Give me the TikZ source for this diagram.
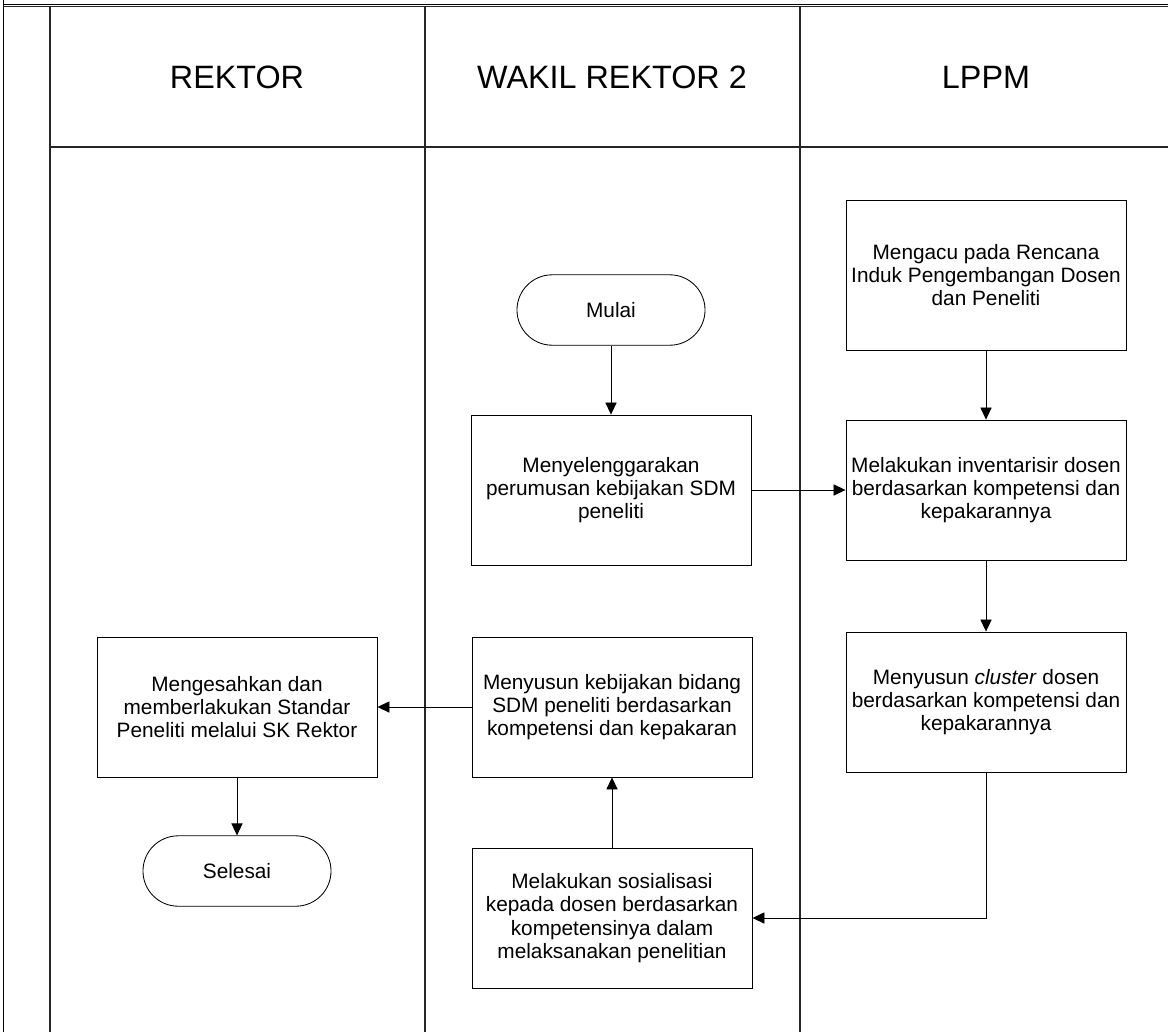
\documentclass[tikz,border=0pt]{standalone}
\usepackage{fontspec}
\setmainfont{Liberation Sans}
\usetikzlibrary{arrows.meta,positioning}

\begin{document}
\begin{tikzpicture}[x=0.025cm, y=-0.025cm,
  lane/.style={line width=1.1pt, black!85},
  frame/.style={line width=0.7pt},
  head/.style={font=\fontsize{23}{27}\selectfont},
  box/.style={draw, line width=0.6pt, align=center, minimum width=7cm, minimum height=3.5cm, font=\fontsize{14.8}{16.6}\selectfont},
  tall/.style={box, minimum height=3.75cm},
  term/.style={draw, line width=0.6pt, rounded corners=0.88cm, minimum width=4.7cm, minimum height=1.76cm, font=\fontsize{14.8}{16.6}\selectfont},
  arr/.style={-{Triangle[length=0.3cm, width=0.28cm]}, line width=0.6pt},
]
\useasboundingbox (0,0) rectangle (1168,1032);

% swimlane frame
\draw[frame] (3,0) -- (3,1032);
\draw[frame] (3,4.5) -- (1168,4.5);
\draw[lane] (3,6.5) -- (1168,6.5);
\draw[lane] (50,147) -- (1168,147);
\foreach \xl in {50,425,800}
  \draw[lane] (\xl,6.5) -- (\xl,1032);

% lane titles
\node[head] (hrektor) at (237,77) {REKTOR};
\node[head] (hwakil) at (612,77) {WAKIL REKTOR 2};
\node[head] (hlppm) at (986,77) {LPPM};

% steps
\node[term] (mulai) at (611,310) {Mulai};
\node[tall] (rumus) at (611,490) {Menyelenggarakan\\perumusan kebijakan SDM\\peneliti};
\node[tall] (acuan) at (986,275) {Mengacu pada Rencana\\Induk Pengembangan Dosen\\dan Peneliti};
\node[box] (inventaris) at (986,490) {Melakukan inventarisir dosen\\berdasarkan kompetensi dan\\kepakarannya};
\node[box] (cluster) at (986,702) {Menyusun \textit{cluster} dosen\\berdasarkan kompetensi dan\\kepakarannya};
\node[box] (sosial) at (612,918) {Melakukan sosialisasi\\kepada dosen berdasarkan\\kompetensinya dalam\\melaksanakan penelitian};
\node[box] (kebijakan) at (612,707) {Menyusun kebijakan bidang\\SDM peneliti berdasarkan\\kompetensi dan kepakaran};
\node[box] (sahkan) at (237,707) {Mengesahkan dan\\memberlakukan Standar\\Peneliti melalui SK Rektor};
\node[term] (selesai) at (237,871) {Selesai};

% flow
\draw[arr] (mulai) -- (rumus);
\draw[arr] (rumus) -- (inventaris);
\draw[arr] (acuan) -- (inventaris);
\draw[arr] (inventaris) -- (cluster);
\draw[arr] (cluster.south) |- (sosial.east);
\draw[arr] (sosial) -- (kebijakan);
\draw[arr] (kebijakan) -- (sahkan);
\draw[arr] (sahkan) -- (selesai);
\end{tikzpicture}
\end{document}
